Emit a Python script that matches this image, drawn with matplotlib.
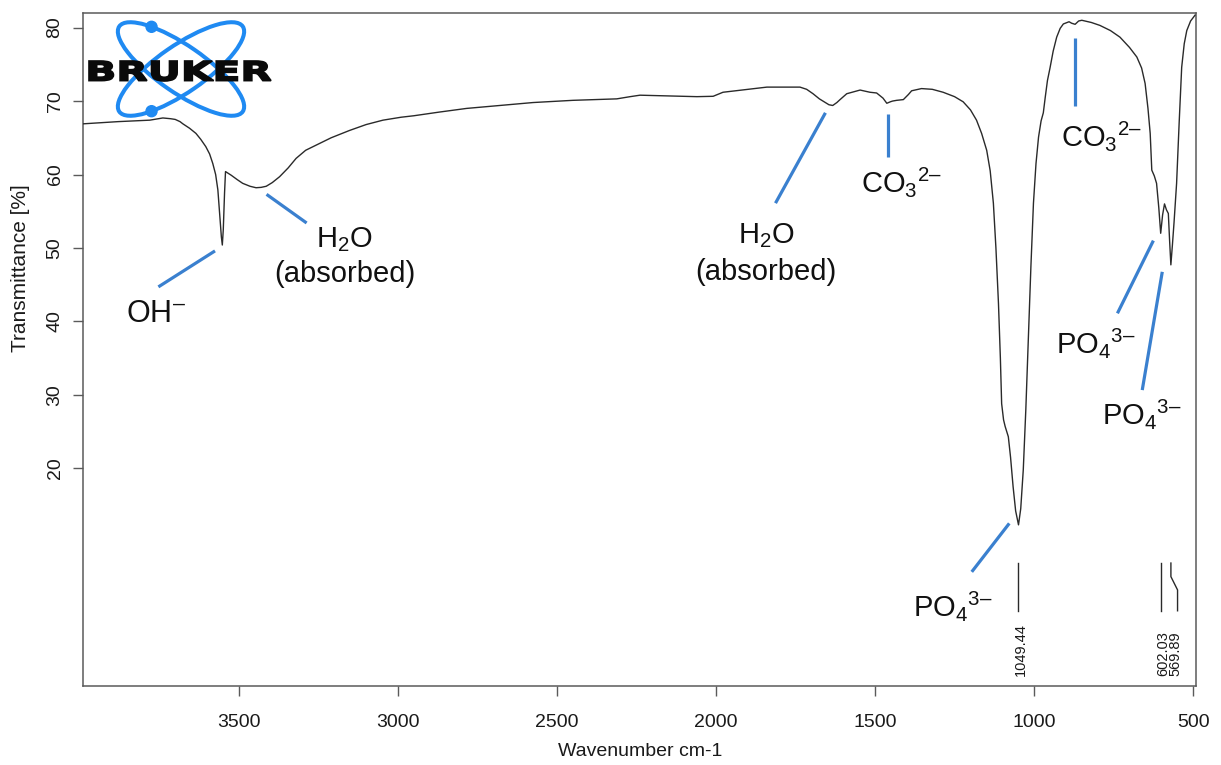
import matplotlib
matplotlib.use("Agg")
import matplotlib.pyplot as plt
from matplotlib.patches import Ellipse, Circle, PathPatch
from matplotlib.textpath import TextPath
from matplotlib.font_manager import FontProperties
from matplotlib.transforms import Affine2D
import numpy as np

plt.rcParams['font.family'] = ['Liberation Sans', 'DejaVu Sans']
plt.rcParams['mathtext.fontset'] = 'custom'
plt.rcParams['mathtext.rm'] = 'Liberation Sans'
plt.rcParams['mathtext.it'] = 'Liberation Sans:italic'
plt.rcParams['mathtext.default'] = 'regular'

# FTIR spectrum (wavenumber in cm-1, transmittance in %)
wavenumber = [3990, 3880, 3780, 3739, 3715, 3700, 3685, 3676, 3655, 3635,
              3620, 3604, 3592, 3582, 3573, 3566, 3560, 3555, 3552, 3549,
              3545, 3542, 3535, 3524, 3505, 3488, 3465, 3446, 3430, 3414,
              3395, 3372, 3345, 3320, 3290, 3257, 3210, 3152, 3100, 3047,
              2990, 2950, 2870, 2784, 2680, 2575, 2450, 2312, 2270, 2239,
              2150, 2060, 2009, 1978, 1920, 1840, 1736, 1715, 1695, 1675,
              1660, 1645, 1633, 1620, 1610, 1589, 1547, 1516, 1495, 1475,
              1463, 1452, 1445, 1432, 1411, 1395, 1385, 1354, 1320, 1286,
              1250, 1223, 1200, 1181, 1165, 1149, 1138, 1128, 1120, 1112,
              1106, 1102, 1096, 1091, 1081, 1074, 1066, 1058, 1049, 1042,
              1034, 1026, 1018, 1010, 1002, 994, 986, 978, 971, 965,
              958, 950, 940, 929, 918, 908, 890, 882, 871, 860,
              850, 820, 793, 760, 730, 700, 677, 662, 651, 642,
              635, 630, 622, 615, 608, 602, 596, 590, 584, 578,
              574, 570, 565, 560, 552, 544, 536, 528, 520, 508,
              494]
transmittance = [66.9, 67.2, 67.4, 67.7, 67.6, 67.5, 67.2, 66.9, 66.3, 65.6,
                 64.8, 63.8, 62.8, 61.5, 60.0, 57.9, 54.5, 51.5, 50.4, 52.5,
                 57.5, 60.4, 60.2, 59.9, 59.3, 58.8, 58.4, 58.2, 58.25, 58.4,
                 58.9, 59.7, 60.9, 62.2, 63.3, 64.0, 65.0, 66.0, 66.8, 67.4,
                 67.8, 68.0, 68.5, 69.0, 69.4, 69.8, 70.1, 70.3, 70.6, 70.8,
                 70.7, 70.6, 70.65, 71.2, 71.5, 71.9, 71.9, 71.6, 71.0, 70.3,
                 69.9, 69.5, 69.4, 69.8, 70.2, 71.0, 71.5, 71.2, 71.1, 70.4,
                 69.7, 69.9, 70.0, 70.1, 70.2, 70.9, 71.4, 71.7, 71.6, 71.2,
                 70.6, 69.9, 68.8, 67.4, 65.6, 63.3, 60.5, 56.1, 50.0, 42.45,
                 35.0, 28.8, 26.6, 25.7, 24.3, 21.5, 17.5, 14.2, 12.3, 14.5,
                 19.8, 28.0, 37.9, 47.5, 56.1, 61.5, 65.1, 67.3, 68.4, 70.5,
                 72.8, 74.5, 76.8, 78.7, 79.9, 80.5, 80.8, 80.6, 80.45, 80.9,
                 81.0, 80.7, 80.3, 79.6, 78.7, 77.3, 76.0, 74.5, 72.4, 69.0,
                 65.6, 60.6, 59.8, 58.8, 55.5, 52.0, 54.5, 56.0, 55.2, 54.7,
                 51.0, 47.7, 50.5, 53.5, 58.8, 67.0, 74.6, 77.8, 79.6, 80.9,
                 81.7]

# Picked peaks
peak_positions = [1049.44, 602.03, 569.89]
peak_labels = ["1049.44", "602.03", "569.89"]

# Band assignments: text, anchor (wavenumber, transmittance), alignment
band_texts = [r"OH$^{\text{–}}$", r"H$_2$O", "(absorbed)", r"H$_2$O", "(absorbed)",
              r"CO$_3$$^{\text{2–}}$", r"CO$_3$$^{\text{2–}}$", r"PO$_4$$^{\text{3–}}$",
              r"PO$_4$$^{\text{3–}}$", r"PO$_4$$^{\text{3–}}$"]
band_text_wn = [3855, 3167, 3167, 1842, 1842, 1544, 915, 1382, 932, 785]
band_text_t = [39.9, 50.1, 45.35, 50.6, 45.6, 57.6, 63.8, -0.2, 35.7, 26.0]
band_text_ha = ["left", "center", "center", "center", "center",
                "left", "left", "left", "left", "left"]

# Leader lines from labels to bands: (wn0, t0, wn1, t1)
leader_wn0 = [3753, 3413, 1656, 1458, 872, 1078, 625, 597]
leader_t0 = [44.7, 57.3, 68.4, 68.3, 78.6, 12.5, 51.0, 46.75]
leader_wn1 = [3575, 3287, 1813, 1458, 872, 1196, 738, 660]
leader_t1 = [49.6, 53.4, 56.1, 62.4, 69.3, 5.9, 41.1, 30.65]

W, H = 1221, 765
fig = plt.figure(figsize=(W / 100, H / 100), dpi=100)
ax = fig.add_axes([83 / W, 1 - 685.7 / H, (1196 - 83) / W, (685.7 - 13.3) / H])

ax.plot(wavenumber, transmittance, color='#2a2a2a', lw=1.0, zorder=3,
        solid_joinstyle='round')
ax.set_xlim(3990, 491)
ax.set_ylim(-9.6, 81.95)
ax.set_xticks([3500, 3000, 2500, 2000, 1500, 1000, 500])
ax.set_yticks([20, 30, 40, 50, 60, 70, 80])

for sp in ax.spines.values():
    sp.set_color('#5a5a5a')
    sp.set_linewidth(1.1)
ax.tick_params(axis='both', direction='out', length=7.5, width=1.0,
               color='#5a5a5a', labelsize=14, labelcolor='#1a1a1a')
ax.tick_params(axis='x', pad=13)
ax.tick_params(axis='y', pad=6.5)
for lab in ax.get_yticklabels():
    lab.set_rotation(90)
    lab.set_va('center')

fig.text(640 / W, 1 - 752 / H, "Wavenumber cm-1", ha='center', va='center',
         fontsize=14, color='#1a1a1a')
fig.text(21 / W, 1 - 268 / H, "Transmittance [%]", ha='center', va='center',
         rotation=90, fontsize=15, color='#1a1a1a')

# Peak pick markers
marker_top, marker_bot = 7.1, 0.6
ax.plot([1049.44, 1049.44], [marker_top, marker_bot], color='#2a2a2a', lw=1.0)
ax.plot([602.03, 602.03], [marker_top, marker_bot], color='#2a2a2a', lw=1.0)
ax.plot([569.89, 569.89, 549, 549], [marker_top, 5.25, 3.44, marker_bot],
        color='#2a2a2a', lw=1.0)
label_wn = [1042, 593, 555]
for wn, txt in zip(label_wn, peak_labels):
    ax.text(wn, -8.26, txt, rotation=90, ha='center', va='bottom',
            fontsize=10.5, color='#1a1a1a')

# Band assignment leaders and labels
blue = '#3a80cf'
for x0, y0, x1, y1 in zip(leader_wn0, leader_t0, leader_wn1, leader_t1):
    ax.plot([x0, x1], [y0, y1], color=blue, lw=2.3, solid_capstyle='butt', zorder=4)
for txt, x, y, ha in zip(band_texts, band_text_wn, band_text_t, band_text_ha):
    size = 22 if txt.startswith("OH") else 21
    ax.text(x, y, txt, ha=ha, va='baseline', fontsize=size, color='#111111')

# Logo in pixel coordinates
lax = fig.add_axes([0, 0, 1, 1], zorder=5)
lax.set_xlim(0, W)
lax.set_ylim(0, H)
lax.set_axis_off()
logo_blue = '#1f8af2'
cx, cy = 181, H - 69
a, b, ang = 150, 47, 34.6
for sgn in (-1, 1):
    lax.add_patch(Ellipse((cx, cy), a, b, angle=sgn * ang, fill=False,
                          ec=logo_blue, lw=2.9))
for sgn in (-1, 1):
    t = np.deg2rad(130)
    th = np.deg2rad(sgn * ang)
    u = np.array([np.cos(th), np.sin(th)])
    v = np.array([-np.sin(th), np.cos(th)])
    p = np.array([cx, cy]) + (a / 2) * np.cos(t) * u + (b / 2) * np.sin(t) * v * (-sgn)
    lax.add_patch(Circle(tuple(p), 5.5, color=logo_blue))

tp = TextPath((0, 0), "BRUKER", size=30,
              prop=FontProperties(family='DejaVu Sans', weight='bold'))
ext = tp.get_extents()
x0, x1, y0, y1 = 89, 271, H - 81, H - 61
tr = (Affine2D().translate(-ext.x0, -ext.y0)
      .scale((x1 - x0) / ext.width, (y1 - y0) / ext.height)
      .translate(x0, y0))
lax.add_patch(PathPatch(tr.transform_path(tp), fc='#0a0a0a', ec='#0a0a0a', lw=1.2))

fig.savefig("out.png", dpi=100)
